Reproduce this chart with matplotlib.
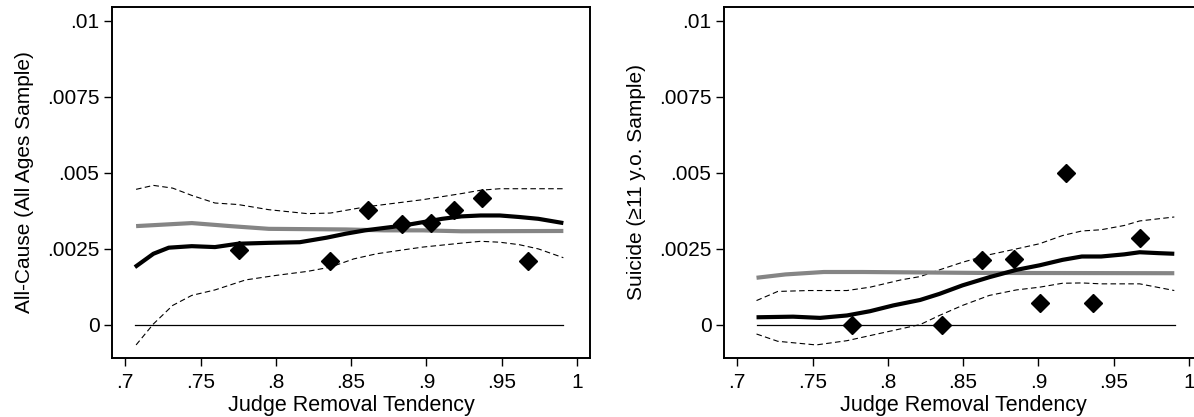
import matplotlib
matplotlib.use('Agg')
import matplotlib.pyplot as plt

plt.rcParams['font.family'] = ['Liberation Sans', 'DejaVu Sans']

# binned scatter points (same bins in both panels)
bins_x = [0.7754, 0.8363, 0.8614, 0.8839, 0.9028, 0.9184, 0.9368, 0.9673]
bins_x_r = [0.7762, 0.8363, 0.8627, 0.8836, 0.9010, 0.9182, 0.9366, 0.9673]
allcause_pts = [0.00246, 0.00208, 0.00376, 0.00332, 0.00334, 0.00378, 0.00418, 0.00208]
suicide_pts = [0.0, 0.0, 0.00213, 0.00215, 0.00071, 0.00498, 0.00071, 0.00285]

# left panel: all-cause
ac_fit_x = [0.7064, 0.7187, 0.7289, 0.7442, 0.7596, 0.7749, 0.7954, 0.8159, 0.8338, 0.8465,
            0.8593, 0.8721, 0.8849, 0.8977, 0.9105, 0.9233, 0.936, 0.9488, 0.9616, 0.9744, 0.991]
ac_fit_y = [0.00189, 0.00233, 0.00253, 0.00258, 0.00255, 0.00266, 0.00269, 0.00271, 0.00286, 0.00299,
            0.0031, 0.00318, 0.00326, 0.00337, 0.00348, 0.00356, 0.00359, 0.00359, 0.00354, 0.00348, 0.00334]
ac_base_x = [0.7072, 0.7442, 0.7698, 0.7954, 0.8465, 0.872, 0.8977, 0.9233, 0.991]
ac_base_y = [0.00324, 0.00334, 0.00324, 0.00315, 0.00313, 0.0031, 0.0031, 0.00307, 0.00308]
ac_hi_x = [0.7072, 0.7187, 0.7315, 0.7442, 0.7596, 0.7749, 0.7954, 0.821, 0.8363, 0.8593,
           0.8849, 0.8977, 0.9233, 0.936, 0.9488, 0.991]
ac_hi_y = [0.00445, 0.00458, 0.00449, 0.00425, 0.004, 0.00395, 0.00378, 0.00365, 0.00367, 0.00387,
           0.00403, 0.00411, 0.00431, 0.00442, 0.00447, 0.00447]
ac_lo_x = [0.7072, 0.7187, 0.7315, 0.7442, 0.7596, 0.78, 0.8005, 0.821, 0.8363, 0.8517,
           0.867, 0.8849, 0.8977, 0.9233, 0.936, 0.9488, 0.9616, 0.9744, 0.991]
ac_lo_y = [-0.00067, 0.00002, 0.00063, 0.00096, 0.00114, 0.00147, 0.00162, 0.00175, 0.00189, 0.00216,
           0.00233, 0.00246, 0.00255, 0.00268, 0.00274, 0.00271, 0.00263, 0.00249, 0.0022]

# right panel: suicide
su_fit_x = [0.7128, 0.7371, 0.755, 0.7729, 0.7882, 0.8036, 0.8215, 0.8343, 0.8496, 0.8675,
            0.8854, 0.9008, 0.9161, 0.9289, 0.9417, 0.957, 0.9673, 0.98, 0.9903]
su_fit_y = [0.00024, 0.00026, 0.00022, 0.0003, 0.00044, 0.00063, 0.00081, 0.00101, 0.00129, 0.00156,
            0.0018, 0.00195, 0.00213, 0.00224, 0.00224, 0.00231, 0.00238, 0.00235, 0.00233]
su_base_x = [0.7128, 0.732, 0.7575, 0.7831, 0.8598, 0.9903]
su_base_y = [0.00154, 0.00165, 0.00173, 0.00173, 0.0017, 0.00169]
su_hi_x = [0.7128, 0.7269, 0.7473, 0.7729, 0.7882, 0.8087, 0.8215, 0.8343, 0.8496, 0.8675,
           0.8854, 0.9008, 0.9161, 0.9289, 0.9417, 0.957, 0.9673, 0.9903]
su_hi_y = [0.00079, 0.00109, 0.00112, 0.00112, 0.00123, 0.00147, 0.00158, 0.0018, 0.00205, 0.0023,
           0.00249, 0.00266, 0.00293, 0.00308, 0.00312, 0.00326, 0.00341, 0.00354]
su_lo_x = [0.7128, 0.7269, 0.7524, 0.7729, 0.7985, 0.8215, 0.8343, 0.8496, 0.8675, 0.8854,
           0.9008, 0.9161, 0.9289, 0.9417, 0.9673, 0.9903]
su_lo_y = [-0.00031, -0.00055, -0.00067, -0.00053, -0.00025, 0.0, 0.0003, 0.00063, 0.00096, 0.00114,
           0.00123, 0.00136, 0.00137, 0.00134, 0.00134, 0.00112]

xticks = [0.7, 0.75, 0.8, 0.85, 0.9, 0.95, 1.0]
xticklabels = ['.7', '.75', '.8', '.85', '.9', '.95', '1']
yticks = [0, 0.0025, 0.005, 0.0075, 0.01]
yticklabels = ['0', '.0025', '.005', '.0075', '.01']

fig = plt.figure(figsize=(11.94, 4.17), dpi=100)
ax1 = fig.add_axes([112 / 1194, 59 / 417, 478 / 1194, 351 / 417])
ax2 = fig.add_axes([724 / 1194, 59 / 417, 478 / 1194, 351 / 417])

panels = [
    (ax1, bins_x, allcause_pts, ac_fit_x, ac_fit_y, ac_base_x, ac_base_y,
     ac_hi_x, ac_hi_y, ac_lo_x, ac_lo_y, 'All-Cause (All Ages Sample)', (0.7064, 0.991)),
    (ax2, bins_x_r, suicide_pts, su_fit_x, su_fit_y, su_base_x, su_base_y,
     su_hi_x, su_hi_y, su_lo_x, su_lo_y, 'Suicide (\u226511 y.o. Sample)', (0.7128, 0.9905)),
]

for ax, px, py, fx, fy, bx, by, hx, hy, lx, ly, ylab, zr in panels:
    ax.plot(zr, [0, 0], color='black', lw=0.9, zorder=1)
    ax.plot(hx, hy, color='black', lw=0.8, dashes=(5, 3), zorder=2)
    ax.plot(lx, ly, color='black', lw=0.8, dashes=(5, 3), zorder=2)
    ax.plot(bx, by, color='#858585', lw=3.0, solid_capstyle='butt', zorder=3)
    ax.plot(fx, fy, color='black', lw=3.0, solid_capstyle='butt', zorder=4)
    ax.plot(px, py, linestyle='none', marker='D', ms=8.8, color='black', zorder=5)

    ax.set_xlim(0.6912, 1.0087)
    ax.set_ylim(-0.0011, 0.01045)
    ax.set_xticks(xticks)
    ax.set_xticklabels(xticklabels)
    ax.set_yticks(yticks)
    ax.set_yticklabels(yticklabels)
    ax.tick_params(labelsize=15, length=6, width=1, direction='out')
    ax.tick_params(axis='x', pad=5)
    ax.tick_params(axis='y', pad=3)
    for s in ax.spines.values():
        s.set_linewidth(1.4)
    ax.set_xlabel('Judge Removal Tendency', fontsize=15.5, labelpad=2)
    ax.set_ylabel(ylab, fontsize=15, labelpad=9)

fig.savefig('out.png', dpi=100)
